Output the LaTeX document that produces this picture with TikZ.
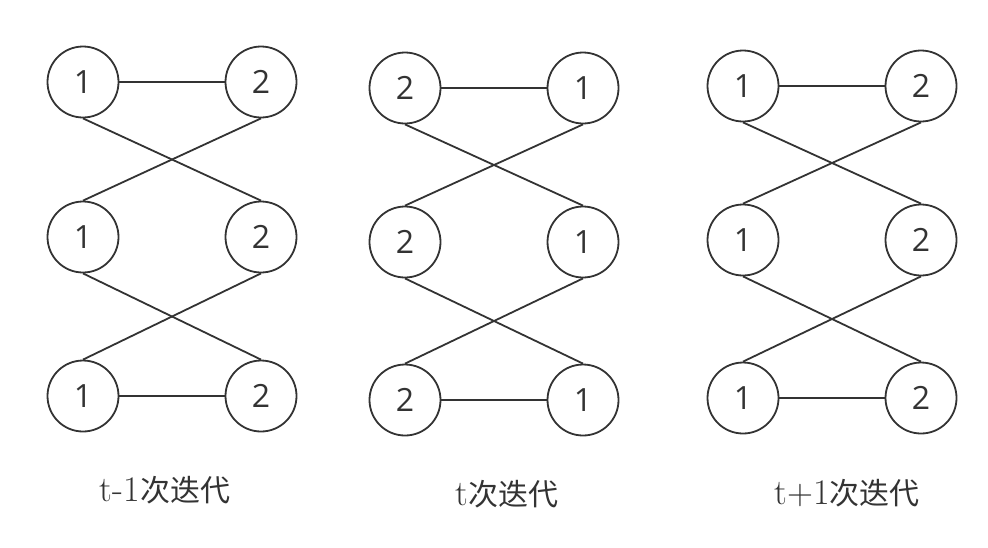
\documentclass[tikz,border=0pt]{standalone}
\usepackage{fontspec}
\setsansfont{Open Sans}
\newfontfamily\cjk{Noto Sans CJK SC}
\usepackage{xcolor}
\usetikzlibrary{positioning}

\definecolor{ink}{HTML}{333333}

\begin{document}
\begin{tikzpicture}[
    x=0.5pt, y=-0.5pt,
    player/.style={circle, draw=ink, line width=0.9pt, minimum size=35.5pt, inner sep=0pt, font=\sffamily\fontsize{16}{16}\selectfont, text=ink},
    link/.style={draw=ink, line width=0.9pt},
    caption/.style={font=\fontsize{18}{18}\selectfont, text=ink}
]
    \useasboundingbox (0,0) rectangle (988,547);

    % t-1
    \node [player] (a11) at (83,82) {1};
    \node [player] (a12) at (261,82) {2};
    \node [player] (a21) at (83,237) {1};
    \node [player] (a22) at (261,237) {2};
    \node [player] (a31) at (83,396) {1};
    \node [player] (a32) at (261,396) {2};

    % t
    \node [player] (b11) at (405,88) {2};
    \node [player] (b12) at (583,88) {1};
    \node [player] (b21) at (405,242) {2};
    \node [player] (b22) at (583,242) {1};
    \node [player] (b31) at (405,400) {2};
    \node [player] (b32) at (583,400) {1};

    % t+1
    \node [player] (c11) at (743,86) {1};
    \node [player] (c12) at (921,86) {2};
    \node [player] (c21) at (743,240) {1};
    \node [player] (c22) at (921,240) {2};
    \node [player] (c31) at (743,398) {1};
    \node [player] (c32) at (921,398) {2};

    % Links
    \foreach \g in {a,b,c} {
        \draw [link] (\g11) -- (\g12);
        \draw [link] (\g31) -- (\g32);
        \draw [link] (\g11.south) -- (\g22.north);
        \draw [link] (\g12.south) -- (\g21.north);
        \draw [link] (\g21.south) -- (\g32.north);
        \draw [link] (\g22.south) -- (\g31.north);
    }

    % Captions
    \node [caption] (capa) at (165,490) {t-1{\cjk\fontsize{15}{15}\selectfont 次迭代}};
    \node [caption] (capb) at (507,494) {t{\cjk\fontsize{15}{15}\selectfont 次迭代}};
    \node [caption] (capc) at (847,493) {t+1{\cjk\fontsize{15}{15}\selectfont 次迭代}};

\end{tikzpicture}
\end{document}
